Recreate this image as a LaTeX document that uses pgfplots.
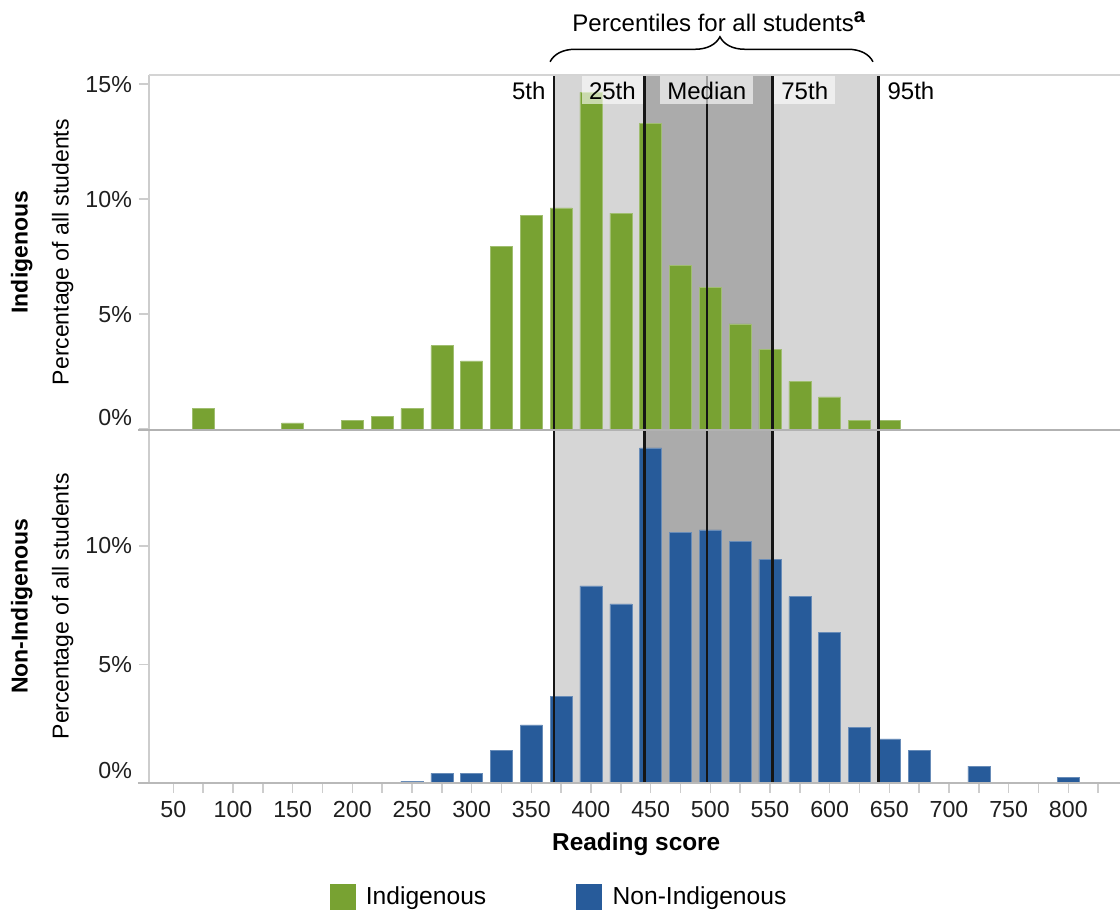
\documentclass[border=0pt]{standalone}
\usepackage{fontspec}
\setmainfont{Liberation Sans}
\usepackage{pgfplots}
\usepackage{pgfplotstable}
\pgfplotsset{compat=1.18}
\usetikzlibrary{decorations.pathreplacing}

\definecolor{igreen}{HTML}{78A232}
\definecolor{iblue}{HTML}{275B9A}
\definecolor{lgray}{HTML}{D6D6D6}
\definecolor{dgray}{HTML}{ABABAB}
\definecolor{axgray}{HTML}{CDCDCD}
\definecolor{sepgray}{HTML}{B2B2B2}
\definecolor{pline}{HTML}{151515}

\pgfplotstableread{
x y
75 0.90
150 0.28
200 0.39
225 0.57
250 0.90
275 3.63
300 2.97
325 7.95
350 9.29
375 9.62
400 14.64
425 9.40
450 13.30
475 7.11
500 6.15
525 4.58
550 3.47
575 2.08
600 1.41
625 0.39
650 0.39
}\indig

\pgfplotstableread{
x y
250 0.07
275 0.39
300 0.39
325 1.38
350 2.44
375 3.63
400 8.31
425 7.55
450 14.14
475 10.56
500 10.68
525 10.20
550 9.44
575 7.86
600 6.35
625 2.34
650 1.85
675 1.35
725 0.70
800 0.23
}\nonindig

\pgfplotsset{
  panel/.style={
    scale only axis, width=485.5pt, anchor=south west,
    xmin=29.6, xmax=843.3, ymin=0,
    axis line style={draw=none},
    clip=false,
    tick align=outside,
    ytick={0,5,10,15},
    ytick pos=left, xtick pos=bottom,
    major tick length=5pt, minor tick length=5pt,
    tick style={draw=axgray, line width=0.8pt},
    yticklabel style={font=\fontsize{11.6}{13}\selectfont, text=black!88},
    xticklabel style={font=\fontsize{11.6}{13}\selectfont, text=black!88, yshift=-1pt},
    /pgf/number format/assume math mode=true,
  },
}
\tikzset{
  lab/.style={font=\fontsize{12}{14}\selectfont, fill=white, fill opacity=0.6, text opacity=1,
    inner xsep=3.5pt, inner ysep=0pt, minimum height=14pt, text height=8.7pt, text depth=0pt},
  ylab/.style={rotate=90, anchor=center, font=\fontsize{11.5}{13}\selectfont},
  ylabb/.style={rotate=90, anchor=center, font=\bfseries\fontsize{11.5}{13}\selectfont},
}

\begin{document}
\begin{tikzpicture}
\useasboundingbox (0,0) rectangle (560pt,456.5pt);

% ---------------- top panel ----------------
\begin{axis}[panel, at={(74.5pt,241.85pt)}, height=177.15pt, ymax=15.4,
  xtick=\empty,
  yticklabels={\raisebox{11.5pt}{0\%},5\%,10\%,15\%}]
\addplot[fill=lgray, draw=none, forget plot] coordinates {(369,15.4) (641,15.4)} \closedcycle;
\addplot[fill=dgray, draw=none, forget plot] coordinates {(445,15.4) (552,15.4)} \closedcycle;
\addplot[ybar, bar width=18.5, bar shift=0pt, fill=igreen, draw=igreen!70!white, line width=0.3pt, forget plot] table {\indig};
\addplot[pline, line width=0.75pt, forget plot] coordinates {(369,0) (369,15.4)};
\addplot[pline, line width=1.5pt, forget plot] coordinates {(445,0) (445,15.4)};
\addplot[pline, line width=0.75pt, forget plot] coordinates {(497,0) (497,15.4)};
\addplot[pline, line width=1.5pt, forget plot] coordinates {(552,0) (552,15.4)};
\addplot[pline, line width=1.2pt, forget plot] coordinates {(641,0) (641,15.4)};
\draw[axgray, line width=0.8pt] (rel axis cs:0,0) -- (rel axis cs:0,1);
\draw[axgray!85, line width=0.8pt] (rel axis cs:0,1) -- (rel axis cs:1,1);
\node[lab, anchor=north east, fill=none] at ([xshift=-0.6pt,yshift=-0.5pt]axis cs:369,15.4) {5th};
\node[lab, anchor=north east] at ([xshift=-0.8pt,yshift=-0.5pt]axis cs:445,15.4) {25th};
\node[lab, anchor=north] at ([yshift=-0.5pt]axis cs:497,15.4) {Median};
\node[lab, anchor=north west] at ([xshift=0.8pt,yshift=-0.5pt]axis cs:552,15.4) {75th};
\node[lab, anchor=north west, fill=none] at ([xshift=0.8pt,yshift=-0.5pt]axis cs:641,15.4) {95th};
\draw[decorate, decoration={brace, amplitude=12.5pt, aspect=0.526}, line width=0.75pt]
  ([yshift=6.6pt]axis cs:365.7,15.4) -- ([yshift=6.6pt]axis cs:636.3,15.4);
\node[anchor=base, font=\fontsize{12}{14}\selectfont] at ([yshift=21.7pt]axis cs:507,15.4)
  {Percentiles for all students\raisebox{4.6pt}{\fontsize{10}{10}\selectfont\bfseries a}};
\node[ylabb] at ([xshift=-63.6pt]rel axis cs:0,0.5) {Indigenous};
\node[ylab] at ([xshift=-43.2pt]rel axis cs:0,0.5) {Percentage of all students};
\end{axis}

% ---------------- bottom panel ----------------
\begin{axis}[panel, at={(74.5pt,65.15pt)}, height=176.35pt, ymax=14.9,
  xtick={50,100,...,800}, minor xtick={75,125,...,825},
  yticklabels={\raisebox{12.2pt}{0\%},5\%,10\%,15\%},
  legend columns=2,
  legend image code/.code={\fill[#1, draw=none] (0pt,-6.5pt) rectangle (13pt,6.5pt); \path (16pt,0pt);},
  legend style={at={(0.4232,-0.324)}, anchor=center, draw=none, fill=none,
    font=\fontsize{12.3}{14}\selectfont,
    /tikz/every even column/.append style={column sep=43pt}}]
\addplot[fill=lgray, draw=none, forget plot] coordinates {(369,14.9) (641,14.9)} \closedcycle;
\addplot[fill=dgray, draw=none, forget plot] coordinates {(445,14.9) (552,14.9)} \closedcycle;
\addplot[ybar, bar width=18.5, bar shift=0pt, fill=iblue, draw=iblue!70!white, line width=0.3pt, forget plot] table {\nonindig};
\addplot[pline, line width=0.75pt, forget plot] coordinates {(369,0) (369,14.9)};
\addplot[pline, line width=1.5pt, forget plot] coordinates {(445,0) (445,14.9)};
\addplot[pline, line width=0.75pt, forget plot] coordinates {(497,0) (497,14.9)};
\addplot[pline, line width=1.5pt, forget plot] coordinates {(552,0) (552,14.9)};
\addplot[pline, line width=1.2pt, forget plot] coordinates {(641,0) (641,14.9)};
\draw[axgray, line width=0.8pt] (rel axis cs:0,0) -- (rel axis cs:0,1);
\draw[sepgray, line width=1.3pt] ([xshift=-5.5pt]rel axis cs:0,1) -- (rel axis cs:1,1);
\draw[axgray!90!black, line width=0.9pt] ([xshift=-5.5pt]rel axis cs:0,0) -- (rel axis cs:1,0);
\node[ylabb] at ([xshift=-63.6pt]rel axis cs:0,0.5) {Non-Indigenous};
\node[ylab] at ([xshift=-43.2pt]rel axis cs:0,0.5) {Percentage of all students};
\node[anchor=center, font=\bfseries\fontsize{12.2}{14}\selectfont] at ([yshift=-31pt]rel axis cs:0.5018,0) {Reading score};
\addlegendimage{fill=igreen}
\addlegendentry{Indigenous}
\addlegendimage{fill=iblue}
\addlegendentry{Non-Indigenous}
\end{axis}
\end{tikzpicture}
\end{document}
